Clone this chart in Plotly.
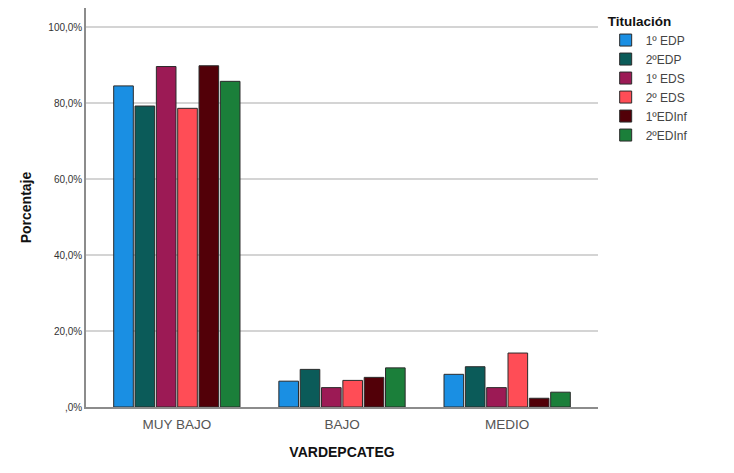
import plotly.graph_objects as go

categories = ["MUY BAJO", "BAJO", "MEDIO"]
series_names = ["1º EDP", "2ºEDP", "1º EDS", "2º EDS", "1ºEDInf", "2ºEDInf"]
edp1 = [84.5, 6.8, 8.6]
edp2 = [79.2, 9.9, 10.6]
eds1 = [89.6, 5.1, 5.1]
eds2 = [78.6, 7.0, 14.2]
edinf1 = [89.8, 7.8, 2.3]
edinf2 = [85.7, 10.3, 3.9]
tick_vals = [0, 20, 40, 60, 80, 100]
tick_text = [",0%", "20,0%", "40,0%", "60,0%", "80,0%", "100,0%"]

colors = ["#1a8fe3", "#0b5b59", "#9c1a55", "#ff4d56", "#520008", "#1b7f3a"]
all_values = [edp1, edp2, eds1, eds2, edinf1, edinf2]

fig = go.Figure()
for name, vals, col in zip(series_names, all_values, colors):
    fig.add_trace(go.Bar(
        x=categories, y=vals, name=name,
        marker=dict(color=col, line=dict(color="#2b2b2b", width=1)),
    ))

# page body has an 8px default margin, so margins are shifted to compensate
fig.update_layout(
    width=734, height=473,
    margin=dict(l=78, r=144, t=0, b=74),
    paper_bgcolor="white", plot_bgcolor="white",
    font=dict(family="Liberation Sans, Arial", color="#333"),
    barmode="group", bargap=0.225, bargroupgap=0.08,
    showlegend=True,
    legend=dict(
        title=dict(text="<b>Titulación</b>", font=dict(size=13.5, color="#111")),
        x=1.015, y=1.0, xanchor="left", yanchor="top",
        font=dict(size=12, color="#444"),
        tracegroupgap=0, itemwidth=30,
    ),
)

fig.update_xaxes(
    range=[-0.55, 2.55],
    showline=True, linecolor="#8c8c8c", linewidth=1.5,
    ticks="", tickfont=dict(size=13.5, color="#555"), ticklabelstandoff=4,
    title=dict(text="<b>VARDEPCATEG</b>", font=dict(size=14, color="#111"), standoff=16),
)
fig.update_yaxes(
    range=[0, 105],
    tickvals=tick_vals, ticktext=tick_text,
    tickfont=dict(size=10, color="#333"),
    showgrid=True, gridcolor="#d4d4d4", gridwidth=1.5,
    showline=True, linecolor="#8c8c8c", linewidth=1.5,
    zeroline=False, ticks="",
    title=dict(text="<b>Porcentaje</b>", font=dict(size=14, color="#111"), standoff=13),
)

fig.write_html("out.html")
